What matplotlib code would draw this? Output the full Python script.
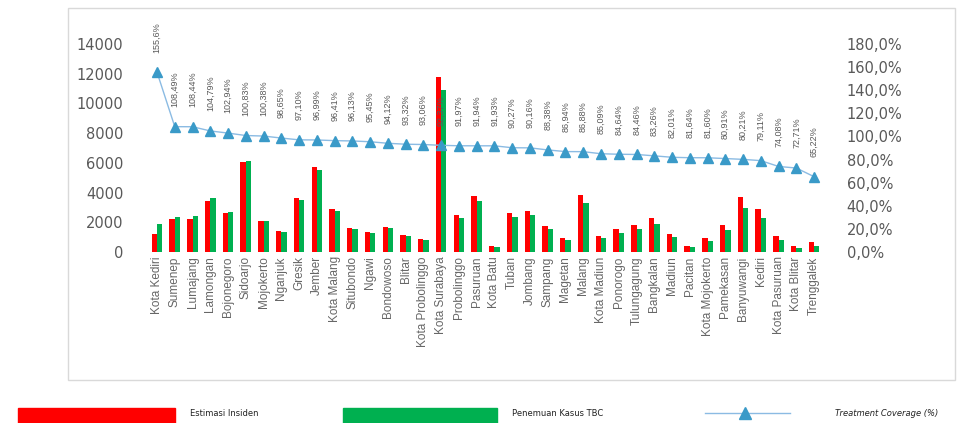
import numpy as np
import matplotlib.pyplot as plt
from matplotlib.patches import Rectangle
from matplotlib.lines import Line2D

kab = ["Kota Kediri", "Sumenep", "Lumajang", "Lamongan", "Bojonegoro", "Sidoarjo",
       "Mojokerto", "Nganjuk", "Gresik", "Jember", "Kota Malang", "Situbondo", "Ngawi",
       "Bondowoso", "Blitar", "Kota Probolinggo", "Kota Surabaya", "Probolinggo",
       "Pasuruan", "Kota Batu", "Tuban", "Jombang", "Sampang", "Magetan", "Malang",
       "Kota Madiun", "Ponorogo", "Tulungagung", "Bangkalan", "Madiun", "Pacitan",
       "Kota Mojokerto", "Pamekasan", "Banyuwangi", "Kediri", "Kota Pasuruan",
       "Kota Blitar", "Trenggalek"]

estimasi = [1200, 2200, 2250, 3450, 2620, 6050, 2080, 1400, 3630, 5700, 2900, 1620,
            1350, 1700, 1150, 880, 11800, 2500, 3770, 400, 2620, 2760, 1750, 940,
            3830, 1080, 1550, 1820, 2290, 1210, 400, 940, 1820, 3700, 2890, 1080,
            400, 680]
penemuan = [1870, 2390, 2440, 3615, 2700, 6100, 2090, 1380, 3530, 5530, 2795, 1560,
            1290, 1600, 1075, 820, 10900, 2300, 3465, 370, 2360, 2490, 1545, 820,
            3330, 920, 1310, 1540, 1900, 990, 330, 765, 1470, 2970, 2290, 800,
            290, 440]
coverage = [155.6, 108.49, 108.44, 104.79, 102.94, 100.83, 100.38, 98.65, 97.10, 96.99,
            96.41, 96.13, 95.45, 94.12, 93.32, 93.06, 92.37, 91.97, 91.94, 91.93,
            90.27, 90.16, 88.38, 86.94, 86.88, 85.09, 84.64, 84.46, 83.26, 82.01,
            81.64, 81.60, 80.91, 80.21, 79.11, 74.08, 72.71, 65.22]

x = np.arange(len(kab))
w = 0.3
grey = "#595959"

fig = plt.figure(figsize=(9.72, 4.23), dpi=100)
fig.patches.append(Rectangle((68/972, 1-380/423), (955-68)/972, (380-8)/423,
                             transform=fig.transFigure, fill=False,
                             edgecolor="#d9d9d9", linewidth=1))
ax = fig.add_axes([0.144, 0.404, 0.71, 0.492])
ax.bar(x - w/2, estimasi, w, color="#ff0000")
ax.bar(x + w/2, penemuan, w, color="#00b050")
ax.set_xlim(-0.96, 37.9)
ax.set_ylim(0, 14000)
ax.set_yticks(range(0, 14001, 2000))
ax.set_xticks(x)
ax.set_xticklabels(kab, rotation=90, fontsize=8.5, color="#666666", family="Liberation Sans")
ax.tick_params(axis="y", labelsize=10.5, labelcolor=grey, length=0, pad=12)
ax.tick_params(axis="x", length=0, pad=3)
for s in ax.spines.values():
    s.set_visible(False)

ax2 = ax.twinx()
ax2.plot(x, coverage, color="#8bbbe3", linewidth=1, marker="^", markersize=7,
         markerfacecolor="#3a9ac8", markeredgecolor="#3a9ac8")
ax2.set_ylim(0, 180)
ax2.set_yticks(range(0, 181, 20))
ax2.set_yticklabels([f"{v},0%" for v in range(0, 181, 20)])
ax2.tick_params(axis="y", labelsize=10.5, labelcolor=grey, length=0, pad=12)
for s in ax2.spines.values():
    s.set_visible(False)
for xi, c in zip(x, coverage):
    lab = f"{c:.2f}%".replace(".", ",") if xi > 0 else f"{c:.1f}%".replace(".", ",")
    ax2.text(xi, c + 17, lab, rotation=90, ha="center", va="bottom", fontsize=6.5,
             color=grey, clip_on=False, family="Liberation Sans")

# legend below the chart box
fig.patches.append(Rectangle((18/972, 1-423/423), (175-18)/972, 15/423,
                             transform=fig.transFigure, color="#ff0000"))
fig.patches.append(Rectangle((343/972, 0), (497-343)/972, 15/423,
                             transform=fig.transFigure, color="#00b050"))
fig.lines.append(Line2D([705/972, 790/972], [1-413/423, 1-413/423],
                        transform=fig.transFigure, color="#8bbbe3", linewidth=1))
fig.lines.append(Line2D([745/972], [1-413/423], transform=fig.transFigure,
                        marker="^", markersize=8, color="#3a9ac8"))
fig.text(190/972, 1-413/423, "Estimasi Insiden", fontsize=6, va="center", color="#222222")
fig.text(512/972, 1-413/423, "Penemuan Kasus TBC", fontsize=6, va="center", color="#222222")
fig.text(835/972, 1-413/423, "Treatment Coverage (%)", fontsize=6, va="center",
         color="#222222", style="italic")

fig.savefig("out.png", dpi=100)
